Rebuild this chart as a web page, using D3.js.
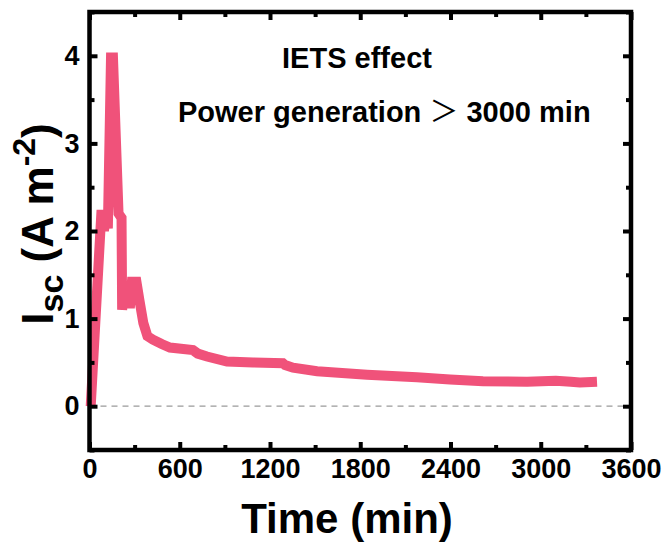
<!DOCTYPE html>
<html>
<head>
<meta charset="utf-8">
<script src="https://cdn.jsdelivr.net/npm/d3@7"></script>
<style>
  body { margin: 0; background: #fff; }
  svg { display: block; font-family: "Liberation Sans", Arial, sans-serif; }
  .tick text { font-weight: bold; }
</style>
</head>
<body>
<svg></svg>
<script>
// Data: time (min) and short-circuit current (A m-2)
const time = [8, 80, 96, 110, 122, 143, 156, 193, 213, 217, 228, 240, 255, 268, 282, 312, 332, 358, 385, 422,
              480, 535, 688, 720, 781, 914, 1087, 1286, 1300, 1353, 1513, 1845, 2177, 2397, 2616, 2909, 3100, 3200, 3260, 3374];
const isc = [0, 2.24, 2.0, 2.2, 2.03, 3.98, 3.98, 2.2, 2.15, 1.1, 1.38, 1.12, 1.4, 1.12, 1.42, 1.42, 1.21, 0.95, 0.8, 0.76,
             0.71, 0.67, 0.64, 0.6, 0.567, 0.51, 0.5, 0.49, 0.47, 0.44, 0.4, 0.36, 0.33, 0.305, 0.285, 0.28, 0.29, 0.28, 0.27, 0.28];

const xTicks = [0, 600, 1200, 1800, 2400, 3000, 3600];
const xMinor = [300, 900, 1500, 2100, 2700, 3300];
const yTicks = [0, 1, 2, 3, 4];
const yMinor = [-0.5, 0.5, 1.5, 2.5, 3.5, 4.5];

const margin = {top: 12, right: 37, bottom: 95, left: 89.5},
    width = 668 - margin.left - margin.right,
    height = 545 - margin.top - margin.bottom;

const svg = d3.select("svg")
    .attr("width", width + margin.left + margin.right)
    .attr("height", height + margin.top + margin.bottom)
  .append("g")
    .attr("transform", `translate(${margin.left},${margin.top})`);

const x = d3.scaleLinear().domain([0, 3600]).range([0, width]);
const y = d3.scaleLinear().domain([-0.5, 4.5]).range([height, 0]);

const data = time.map((t, i) => ({t: t, v: isc[i]}));

// zero reference line
svg.append("line")
    .attr("x1", 0).attr("x2", width)
    .attr("y1", y(0)).attr("y2", y(0))
    .attr("stroke", "#9a9a9a")
    .attr("stroke-width", 1.3)
    .attr("stroke-dasharray", "6,5");

// the curve
svg.append("path")
    .datum(data)
    .attr("fill", "none")
    .attr("stroke", "#f0527a")
    .attr("stroke-width", 10)
    .attr("stroke-linejoin", "miter")
    .attr("stroke-miterlimit", 2)
    .attr("d", d3.line().x(d => x(d.t)).y(d => y(d.v)));

// axes, ticks pointing inward on all four sides
function styleAxis(g) {
  g.select(".domain").remove();
  g.selectAll(".tick line").attr("stroke", "#000").attr("stroke-width", 4);
  g.selectAll(".tick text").attr("fill", "#000").style("font-size", "27px");
}

svg.append("g")
    .attr("transform", `translate(0,${height})`)
    .call(d3.axisBottom(x).tickValues(xTicks).tickFormat(d3.format("d")).tickSize(-8).tickPadding(9))
    .call(styleAxis);
svg.append("g")
    .attr("transform", `translate(0,${height})`)
    .call(d3.axisBottom(x).tickValues(xMinor).tickFormat("").tickSize(-5))
    .call(styleAxis);
svg.append("g")
    .call(d3.axisTop(x).tickValues(xTicks).tickFormat("").tickSize(-8))
    .call(styleAxis);
svg.append("g")
    .call(d3.axisTop(x).tickValues(xMinor).tickFormat("").tickSize(-5))
    .call(styleAxis);

svg.append("g")
    .call(d3.axisLeft(y).tickValues(yTicks).tickFormat(d3.format("d")).tickSize(-8).tickPadding(10))
    .call(styleAxis);
svg.append("g")
    .call(d3.axisLeft(y).tickValues(yMinor).tickFormat("").tickSize(-5))
    .call(styleAxis);
svg.append("g")
    .attr("transform", `translate(${width},0)`)
    .call(d3.axisRight(y).tickValues(yTicks).tickFormat("").tickSize(-8))
    .call(styleAxis);
svg.append("g")
    .attr("transform", `translate(${width},0)`)
    .call(d3.axisRight(y).tickValues(yMinor).tickFormat("").tickSize(-5))
    .call(styleAxis);

// frame
svg.append("rect")
    .attr("width", width)
    .attr("height", height)
    .attr("fill", "none")
    .attr("stroke", "#000")
    .attr("stroke-width", 4.5);

// annotations
svg.append("text")
    .attr("x", 357 - margin.left)
    .attr("y", 56)
    .style("text-anchor", "middle")
    .style("font-weight", "bold")
    .style("font-size", "29px")
    .text("IETS effect");

const note2 = svg.append("text")
    .attr("x", 178 - margin.left)
    .attr("y", 110)
    .style("font-weight", "bold")
    .style("font-size", "29px");
note2.append("tspan").text("Power generation ");
note2.append("tspan")
    .style("font-family", "'Noto Sans CJK SC', sans-serif")
    .style("font-weight", "normal")
    .text("\uFF1E");
note2.append("tspan").text(" 3000 min");

// axis titles
svg.append("text")
    .attr("x", 347 - margin.left)
    .attr("y", height + 83)
    .style("text-anchor", "middle")
    .style("font-weight", "bold")
    .style("font-size", "42px")
    .text("Time (min)");

const yTitle = svg.append("text")
    .attr("transform", `translate(${-margin.left + 53},${224 - margin.top}) rotate(-90)`)
    .style("text-anchor", "middle")
    .style("font-weight", "bold")
    .style("font-size", "44px");
yTitle.append("tspan").text("I");
yTitle.append("tspan").attr("dy", 10).style("font-size", "34px").text("sc");
yTitle.append("tspan").attr("dy", -10).text(" (A m");
yTitle.append("tspan").attr("dy", -18).style("font-size", "32px").text("-2");
yTitle.append("tspan").attr("dy", 18).text(")");
</script>
</body>
</html>
